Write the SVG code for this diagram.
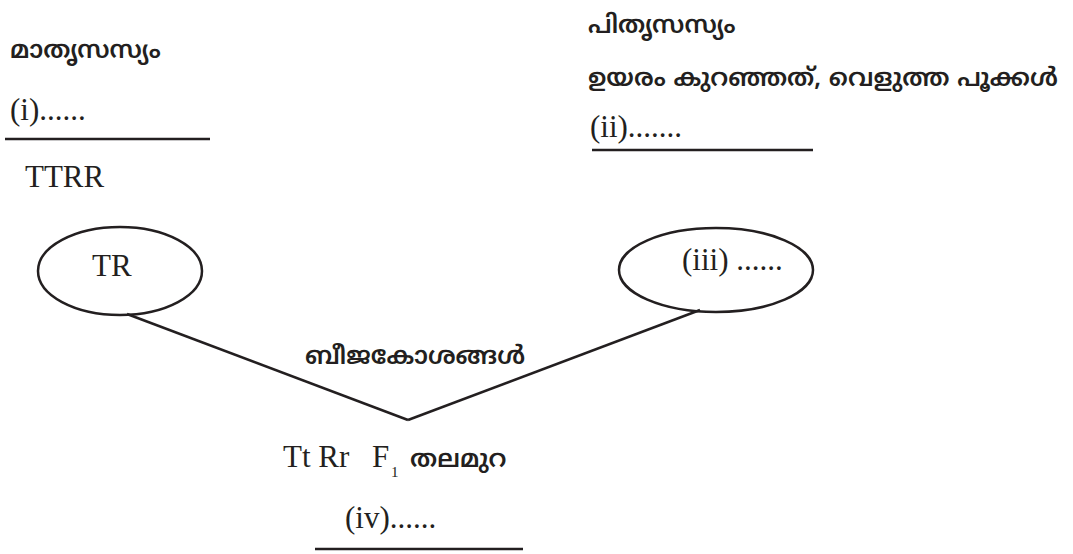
<svg xmlns="http://www.w3.org/2000/svg" width="1073" height="554" viewBox="0 0 1073 554">
<style>
.ml{font-family:"Noto Sans Malayalam","Noto Sans","DejaVu Sans",sans-serif;font-size:25px;font-weight:600;fill:#231f20}
.sr{font-family:"Liberation Serif","Times New Roman",serif;font-size:31px;fill:#231f20}
.sub{font-size:15px}
.ln{stroke:#231f20;stroke-width:2.5;fill:none}
</style>
<rect width="1073" height="554" fill="#fff"/>
<g id="mother">
<text class="ml" x="10" y="58">മാതൃസസ്യം</text>
<text class="sr" x="10" y="120">(i)......</text>
<line class="ln" x1="5" y1="139" x2="210" y2="139"/>
<text class="sr" x="25" y="187">TTRR</text>
</g>
<g id="father">
<text class="ml" x="588" y="33">പിതൃസസ്യം</text>
<text class="ml" x="588" y="86">ഉയരം കുറഞ്ഞത്, വെളുത്ത പൂക്കൾ</text>
<text class="sr" x="590" y="137">(ii).......</text>
<line class="ln" x1="592" y1="150" x2="813" y2="150"/>
</g>
<g id="gamete-left">
<ellipse class="ln" cx="120" cy="271" rx="82" ry="44"/>
<text class="sr" x="92" y="276">TR</text>
</g>
<g id="gamete-right">
<ellipse class="ln" cx="716" cy="270" rx="97" ry="42"/>
<text class="sr" x="682" y="270">(iii) ......</text>
</g>
<g id="connectors">
<line class="ln" x1="127" y1="314" x2="408" y2="420"/>
<line class="ln" x1="408" y1="420" x2="700" y2="310"/>
</g>
<g id="gametes-label">
<text class="ml" x="305" y="364">ബീജകോശങ്ങൾ</text>
</g>
<g id="f1">
<text class="sr" x="283" y="467">Tt Rr</text>
<text class="sr" x="372" y="467">F</text>
<text class="sr sub" x="391" y="477">1</text>
<text class="ml" x="410" y="467">തലമുറ</text>
<text class="sr" x="345" y="528">(iv)......</text>
<line class="ln" x1="315" y1="549" x2="523" y2="549"/>
</g>
</svg>
